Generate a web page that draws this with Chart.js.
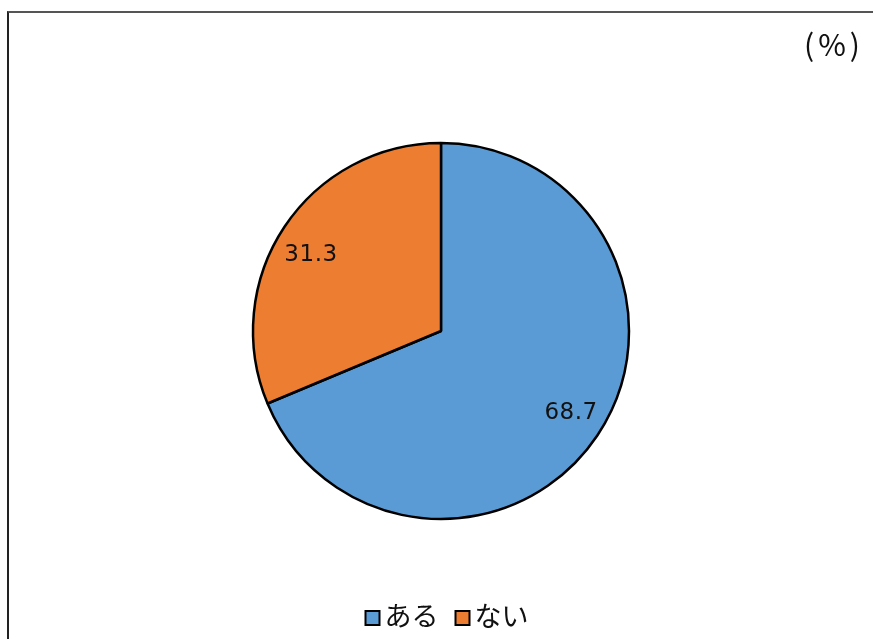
<!DOCTYPE html>
<html>
<head>
<meta charset="utf-8">
<script src="https://cdn.jsdelivr.net/npm/chart.js@4/dist/chart.umd.min.js"></script>
<style>
  html, body { margin: 0; padding: 0; background: #fff; overflow: hidden; }
  #frame { position: absolute; left: 7px; top: 11px; width: 900px; height: 700px;
           border-left: 2px solid #222; border-top: 2px solid #555; }
  #wrap { position: absolute; left: 0; top: 0; width: 873px; height: 639px; }
</style>
</head>
<body>
<div id="frame"></div>
<div id="wrap"><canvas id="myChart"></canvas></div>
<script>
var labels = ["ある", "ない"];
var values = [68.7, 31.3];
var colors = ["#5B9BD5", "#ED7D31"];
var unitText = "(%)";

// percent values inside the slices, unit text and a compact legend
var extras = {
  id: "extras",
  afterDraw: function(chart) {
    var ctx = chart.ctx;
    var meta = chart.getDatasetMeta(0);
    ctx.save();
    ctx.font = "23px 'DejaVu Sans'";
    ctx.letterSpacing = "0.5px";
    ctx.fillStyle = "#111";
    ctx.textAlign = "center";
    ctx.textBaseline = "middle";
    meta.data.forEach(function(arc, i) {
      var p = arc.getProps(["x", "y", "startAngle", "endAngle", "outerRadius"], true);
      var mid = (p.startAngle + p.endAngle) / 2 - 0.04;
      var r = p.outerRadius * 0.81;
      ctx.fillText(values[i].toFixed(1), p.x + Math.cos(mid) * r, p.y + Math.sin(mid) * r + 3);
    });

    ctx.letterSpacing = "4px";
    ctx.font = "30px 'Noto Sans CJK JP'";
    ctx.textAlign = "right";
    ctx.fillText(unitText, 864, 45);

    // legend
    ctx.letterSpacing = "0px";
    ctx.font = "27px 'Noto Sans CJK JP'";
    ctx.textAlign = "left";
    var box = 14, gap = 5, itemGap = 17;
    var widths = labels.map(function(l) { return ctx.measureText(l).width; });
    var total = 0;
    widths.forEach(function(w, i) { total += box + gap + w + (i > 0 ? itemGap : 0); });
    var x = 447 - total / 2, y = 618;
    labels.forEach(function(l, i) {
      ctx.fillStyle = colors[i];
      ctx.fillRect(x, y - box / 2, box, box);
      ctx.lineWidth = 2;
      ctx.strokeStyle = "#000";
      ctx.strokeRect(x, y - box / 2, box, box);
      ctx.fillStyle = "#111";
      ctx.fillText(l, x + box + gap, y - 2);
      x += box + gap + widths[i] + itemGap;
    });
    ctx.restore();
  }
};

var ctx = document.getElementById("myChart").getContext("2d");
var pieChart = new Chart(ctx, {
  type: "pie",
  data: {
    labels: labels,
    datasets: [{
      data: values,
      backgroundColor: colors,
      borderColor: "#000",
      borderWidth: 2.5,
      radius: 188
    }]
  },
  options: {
    responsive: true,
    maintainAspectRatio: false,
    animation: false,
    layout: { padding: { top: 72, left: 9, right: 0, bottom: 49 } },
    plugins: {
      tooltip: { enabled: false },
      legend: { display: false }
    }
  },
  plugins: [extras]
});
</script>
</body>
</html>
